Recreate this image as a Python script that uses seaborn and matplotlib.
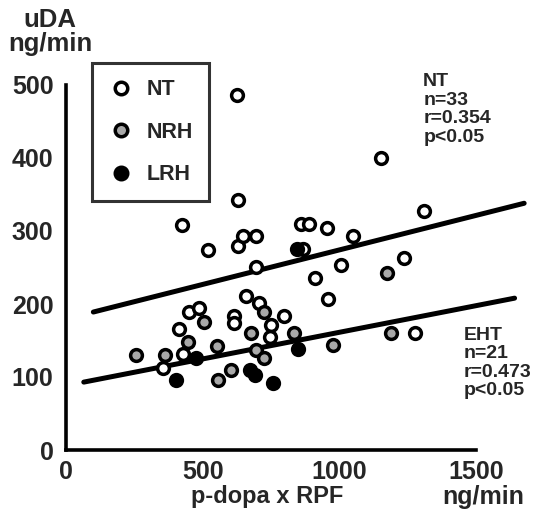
import pandas as pd
import matplotlib.pyplot as plt
import seaborn as sns
from matplotlib.lines import Line2D

# Data (x: p-dopa x RPF ng/min, y: uDA ng/min)
nt_x = [1152, 626, 629, 424, 519, 629, 647, 695, 860, 890, 955, 1050, 1308, 867, 695, 1005,
        1235, 911, 958, 1277, 659, 707, 798, 750, 744, 615, 615, 451, 487, 413, 354, 428]
nt_y = [400, 486, 342, 308, 274, 279, 293, 293, 310, 310, 304, 293, 327, 275, 251, 253,
        263, 235, 207, 160, 211, 201, 184, 171, 155, 183, 174, 189, 195, 166, 113, 131]
nrh_x = [256, 362, 445, 506, 553, 604, 554, 677, 695, 725, 724, 835, 977, 1175, 1189]
nrh_y = [130, 130, 148, 176, 142, 110, 96, 160, 137, 126, 189, 160, 144, 242, 160]
lrh_x = [402, 476, 672, 690, 757, 848, 845]
lrh_y = [96, 126, 110, 103, 92, 139, 275]

# regression lines (end points)
nt_line_x = [100, 1675]
nt_line_y = [189, 338]
eht_line_x = [65, 1640]
eht_line_y = [93, 208]

groups = ['NT', 'NRH', 'LRH']

df = pd.concat([
    pd.DataFrame({'x': nt_x, 'y': nt_y, 'group': 'NT'}),
    pd.DataFrame({'x': nrh_x, 'y': nrh_y, 'group': 'NRH'}),
    pd.DataFrame({'x': lrh_x, 'y': lrh_y, 'group': 'LRH'}),
])

sns.set_style('white')
plt.rcParams['font.family'] = ['Liberation Sans', 'DejaVu Sans']
plt.rcParams['font.weight'] = 'bold'

fig = plt.figure(figsize=(5.45, 5.2), dpi=100)
ax = fig.add_axes([66 / 545, 70 / 520, 465 / 545, 379.6 / 520])

sns.lineplot(x=nt_line_x, y=nt_line_y, ax=ax, color='black', linewidth=3.6)
sns.lineplot(x=eht_line_x, y=eht_line_y, ax=ax, color='black', linewidth=3.6)

face = {'NT': 'white', 'NRH': '#a8a8a8', 'LRH': 'black'}
for g in groups:
    sns.scatterplot(data=df[df.group == g], x='x', y='y', ax=ax, s=72, color=face[g],
                    edgecolor='black', linewidth=2.5, zorder=3)

ax.set_xlim(0, 1700)
ax.set_ylim(0, 520)
ax.spines['top'].set_visible(False)
ax.spines['right'].set_visible(False)
for sp in ['left', 'bottom']:
    ax.spines[sp].set_linewidth(2.6)
    ax.spines[sp].set_color('black')
ax.spines['left'].set_bounds(0, 500)
ax.spines['bottom'].set_bounds(0, 1500)
ax.set_xticks([0, 500, 1000, 1500])
ax.set_yticks([0, 100, 200, 300, 400, 500])
ax.tick_params(axis='both', labelsize=18, width=2, length=5, color='black', direction='out')
ax.tick_params(axis='y', pad=4)
ax.tick_params(axis='x', pad=2)
for lab in ax.get_xticklabels() + ax.get_yticklabels():
    lab.set_fontweight('bold')
ax.set_xlabel('')
ax.set_ylabel('')

handles = [
    Line2D([], [], marker='o', linestyle='', markersize=9, markerfacecolor=face[g],
           markeredgecolor='black', markeredgewidth=2.5)
    for g in groups
]
leg = fig.legend(handles, groups, loc='upper left', bbox_to_anchor=(92 / 545, 1 - 63 / 520),
                 frameon=True, fancybox=False, edgecolor='black', fontsize=15.5,
                 labelspacing=1.0, handletextpad=0.6, borderpad=0.75, handlelength=1.2,
                 borderaxespad=0)
leg.get_frame().set_linewidth(2.2)
for t in leg.get_texts():
    t.set_fontweight('bold')

ax.text(1306, 516, 'NT\nn=33\nr=0.354\np<0.05', fontsize=14, fontweight='bold', va='top', ha='left',
        linespacing=1.12)
ax.text(1453, 169, 'EHT\nn=21\nr=0.473\np<0.05', fontsize=14, fontweight='bold', va='top', ha='left',
        linespacing=1.12)

fig.text(50 / 545, 1 - 8 / 520, 'uDA\nng/min', fontsize=18.5, fontweight='bold', ha='center', va='top',
         linespacing=1.0)
fig.text(267 / 545, 1 - 497 / 520, 'p-dopa x RPF', fontsize=17, fontweight='bold', ha='center', va='center')
fig.text(483 / 545, 1 - 497 / 520, 'ng/min', fontsize=18, fontweight='bold', ha='center', va='center')

plt.savefig('out.png', dpi=100)
